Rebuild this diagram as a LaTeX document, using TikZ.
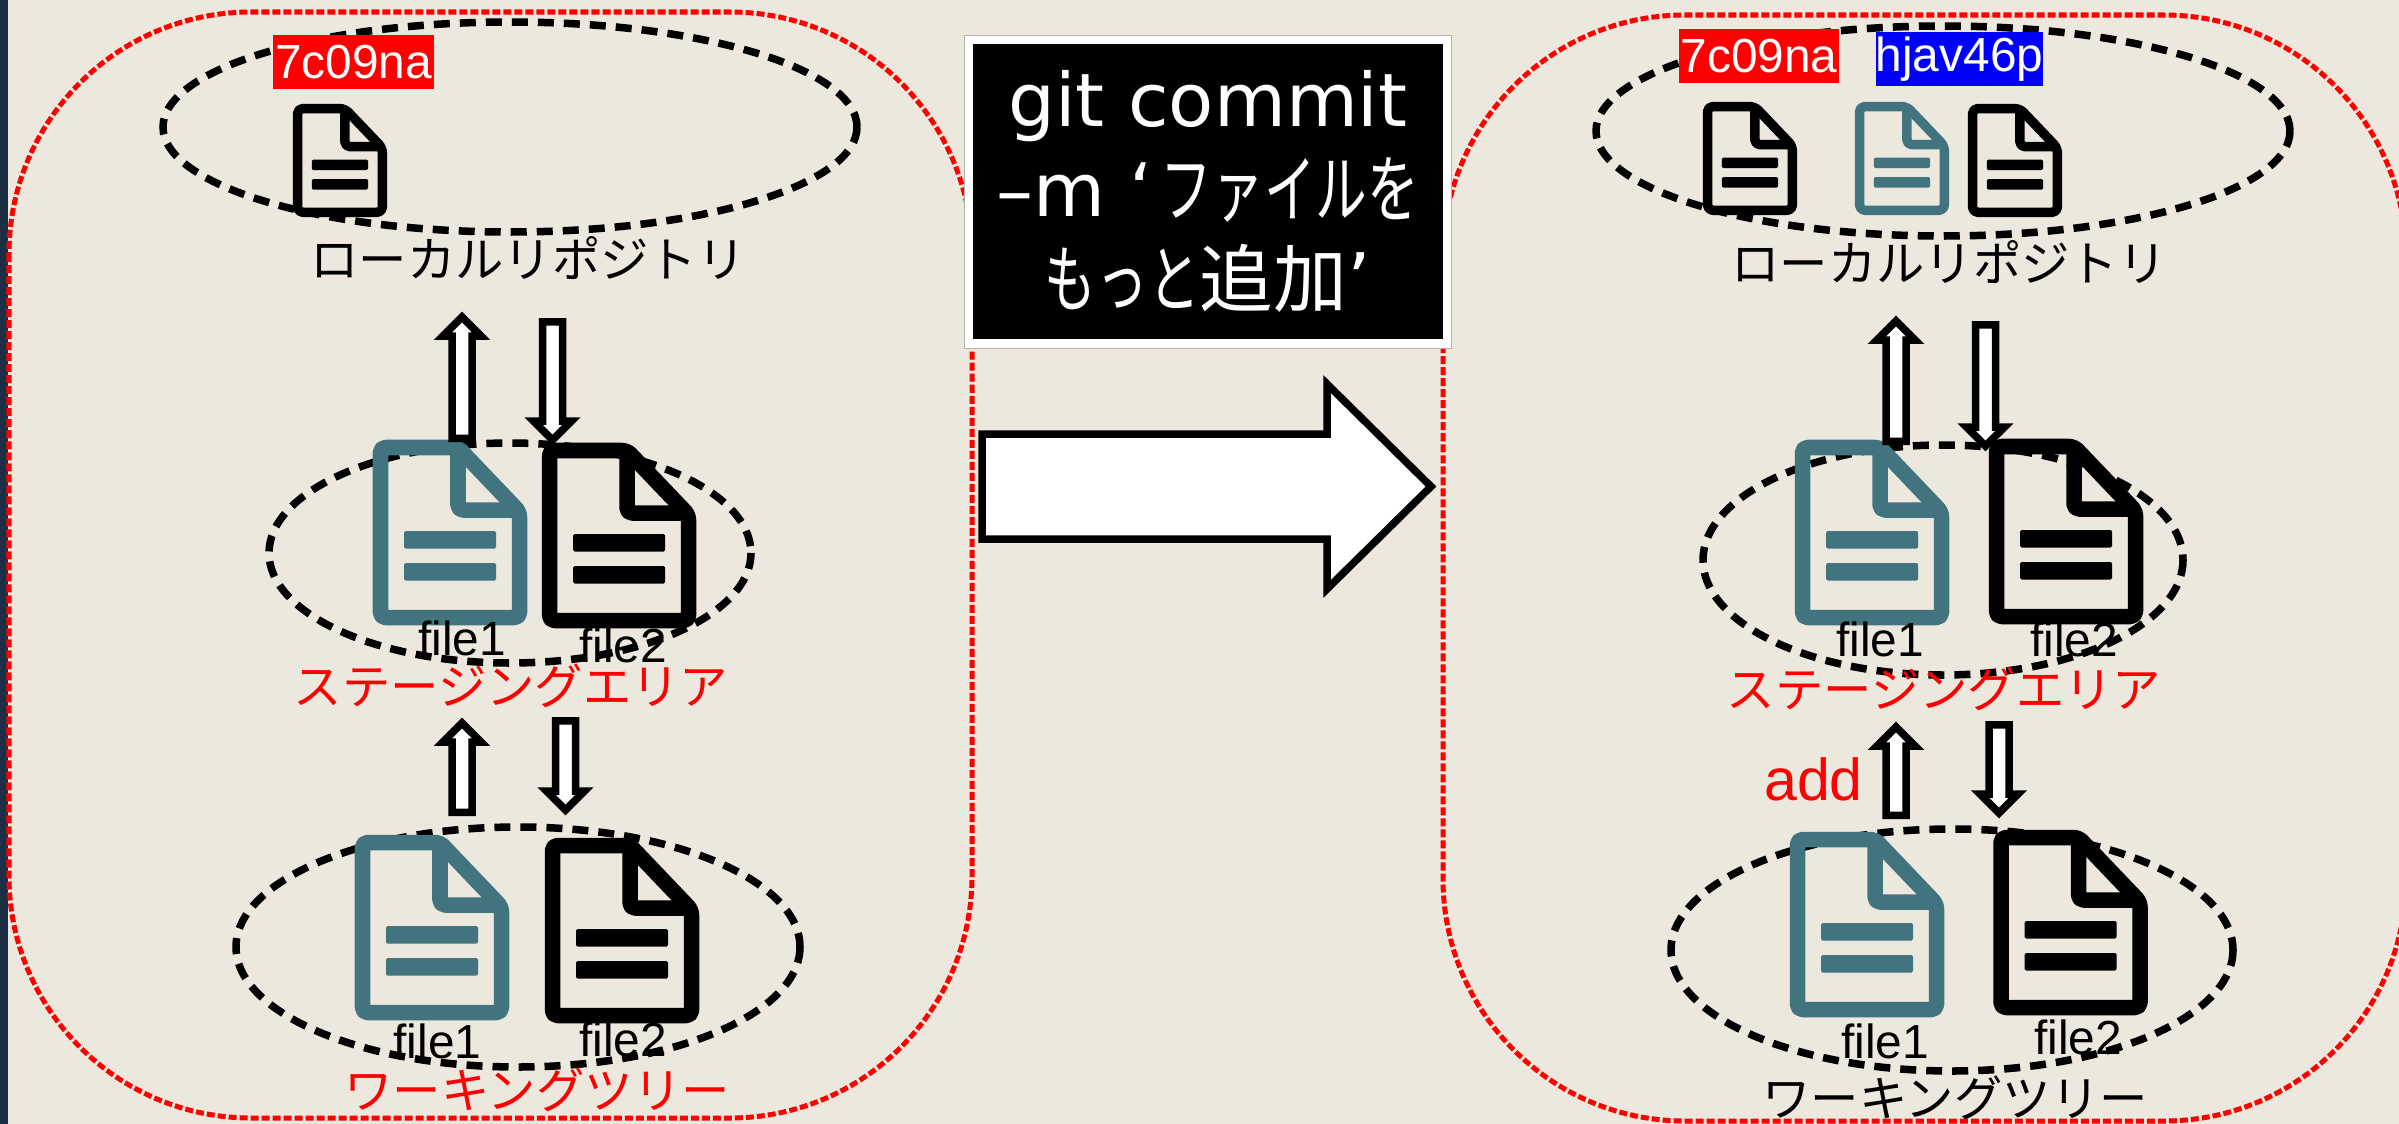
\documentclass[tikz,border=0pt]{standalone}
\usepackage{fontspec}
\setmainfont{Liberation Sans}
\newfontfamily\boxfont{DejaVu Sans}
\newfontfamily\cjkfont{Noto Sans CJK JP}
\newfontfamily\kanafont[FakeStretch=0.70]{Noto Sans CJK JP}
\definecolor{slidebg}{HTML}{ECE8DD}
\definecolor{slidenavy}{HTML}{1B2E44}
\definecolor{fileteal}{HTML}{41747F}
\tikzset{
    panel/.style={draw=red,line width=0.05cm,dash pattern=on 0.08cm off 0.03cm,rounded corners=2.42cm},
    area/.style={draw=black,line width=0.075cm,dash pattern=on 0.16cm off 0.1cm},
    blockarr/.style={draw=black,fill=white,line width=0.075cm,miter limit=10},
    arealabel/.style={inner sep=0,font=\fontsize{13.75pt}{16pt}\selectfont\cjkfont},
    filelabel/.style={inner sep=0,font=\fontsize{13.6pt}{16pt}\selectfont},
    hashlabel/.style={inner sep=0,text=white,anchor=center,minimum height=0.54cm,font=\fontsize{13.6pt}{16pt}\selectfont}
}
% x, y, scale, colour
\newcommand{\fileicon}[4]{
    \begin{scope}[shift={(#1,#2)},scale=#3,draw=#4,line width=#3*0.155cm,line join=round]
       \draw[rounded corners=0.05cm] (7.5,7.5) -- (85,7.5) -- (146.5,72) -- (146.5,177.5) -- (7.5,177.5) -- cycle;
       \draw[rounded corners=0.05cm] (85,7.5) -- (85,70) -- (146.5,70);
       \fill[#4,rounded corners=0.015cm] (31,91) rectangle (123,108.5);
       \fill[#4,rounded corners=0.015cm] (31,123) rectangle (123,140.5);
    \end{scope}
}
% centre x, top y, length
\newcommand{\arrowup}[3]{
    \draw[blockarr,shift={(#1,#2)}] (0,5) -- (19,24) -- (10,24) -- (10,{#3-3.75}) -- (-10,{#3-3.75}) -- (-10,24) -- (-19,24) -- cycle;
}
\newcommand{\arrowdown}[3]{
    \draw[blockarr,shift={(#1,#2)}] (-10,3.75) -- (10,3.75) -- (10,{#3-24}) -- (19,{#3-24}) -- (0,{#3-5}) -- (-19,{#3-24}) -- (-10,{#3-24}) -- cycle;
}
\begin{document}
\begin{tikzpicture}[x=0.01cm,y=-0.01cm]
    \clip (0,0) rectangle (2399,1124);
    \fill[slidebg] (0,0) rectangle (2399,1124);
    \fill[slidenavy] (0,0) rectangle (8,1124);
    %\draw[help lines,step=100] (0,0) grid (2399,1124);
       \draw[panel] (9,12) rectangle (972,1118);
       \draw[panel] (1443,15) rectangle (2406,1121);
    % left side
       \draw[area] (510,127) ellipse (347 and 105);
       \draw[area] (510,553) ellipse (241 and 110);
       \draw[area] (518,947) ellipse (282 and 120);
       \fileicon{293}{104}{0.61}{black}
       \fileicon{373}{440}{1}{fileteal}
       \fileicon{542}{443}{1}{black}
       \fileicon{355}{835}{1}{fileteal}
       \fileicon{545}{838}{1}{black}
       \arrowup{462}{312}{130}
       \arrowdown{552.5}{318}{127}
       \arrowup{462}{718}{98}
       \arrowdown{565.5}{717}{98}
       \node[hashlabel,fill=red,minimum width=1.6cm] (hashleft) at (353.5,62) {7c09na};
       \node[arealabel] (repoleft) at (528,258) {ローカルリポジトリ};
       \node[arealabel,text=red] (stageleft) at (511,686) {ステージングエリア};
       \node[arealabel,text=red] (treeleft) at (537,1090) {ワーキングツリー};
       \node[filelabel] (stagefileonel) at (462,638) {file1};
       \node[filelabel] (stagefiletwol) at (623,645) {file2};
       \node[filelabel] (treefileonel) at (437.5,1041) {file1};
       \node[filelabel] (treefiletwol) at (623,1039) {file2};
    % right side
       \draw[area] (1943,131) ellipse (347 and 105);
       \draw[area] (1943,560) ellipse (240 and 115);
       \draw[area] (1952,950) ellipse (281 and 121);
       \fileicon{1703}{102}{0.61}{black}
       \fileicon{1855}{102}{0.61}{fileteal}
       \fileicon{1968}{104}{0.61}{black}
       \fileicon{1795}{440}{1}{fileteal}
       \fileicon{1989}{439}{1}{black}
       \fileicon{1790}{832}{1}{fileteal}
       \fileicon{1993.5}{830}{1}{black}
       \arrowup{1896}{316}{129}
       \arrowdown{1985.5}{321}{130}
       \arrowup{1896}{722}{97}
       \arrowdown{1999}{721}{97}
       \node[hashlabel,fill=red,minimum width=1.6cm] (hashoneright) at (1759,56) {7c09na};
       \node[hashlabel,fill=blue,minimum width=1.65cm] (hashtworight) at (1959.5,59) {hjav46p};
       \node[arealabel] (reporight) at (1949,262) {ローカルリポジトリ};
       \node[arealabel,text=red] (stageright) at (1944,689) {ステージングエリア};
       \node[arealabel] (treeright) at (1955,1098) {ワーキングツリー};
       \node[filelabel] (stagefileoner) at (1880,639) {file1};
       \node[filelabel] (stagefiletwor) at (2074,639) {file2};
       \node[filelabel] (treefileoner) at (1885,1041) {file1};
       \node[filelabel] (treefiletwor) at (2078,1037) {file2};
       \node[inner sep=0,text=red,font=\fontsize{16.8pt}{20pt}\selectfont] (addlabel) at (1813.5,779) {add};
    % middle
       \node[fill=white,draw=gray!60,line width=0.01cm,minimum width=4.86cm,minimum height=3.12cm,inner sep=0] (commitframe) at (1208,192) {};
       \node[fill=black,text=white,minimum width=4.69cm,minimum height=2.95cm,inner sep=0,align=center,
             font=\fontsize{21pt}{25.6pt}\selectfont\boxfont] (commitlabel) at (1208,191.5)
             {git commit\\–m ‘\kern0.08cm{\kanafont ファイルを}\\{\kanafont もっと}{\cjkfont 追加}’};
       \draw[blockarr] (982,434) -- (1327,434) -- (1327,384) -- (1431,486.5) -- (1327,589) -- (1327,539) -- (982,539) -- cycle;
\end{tikzpicture}
\end{document}
